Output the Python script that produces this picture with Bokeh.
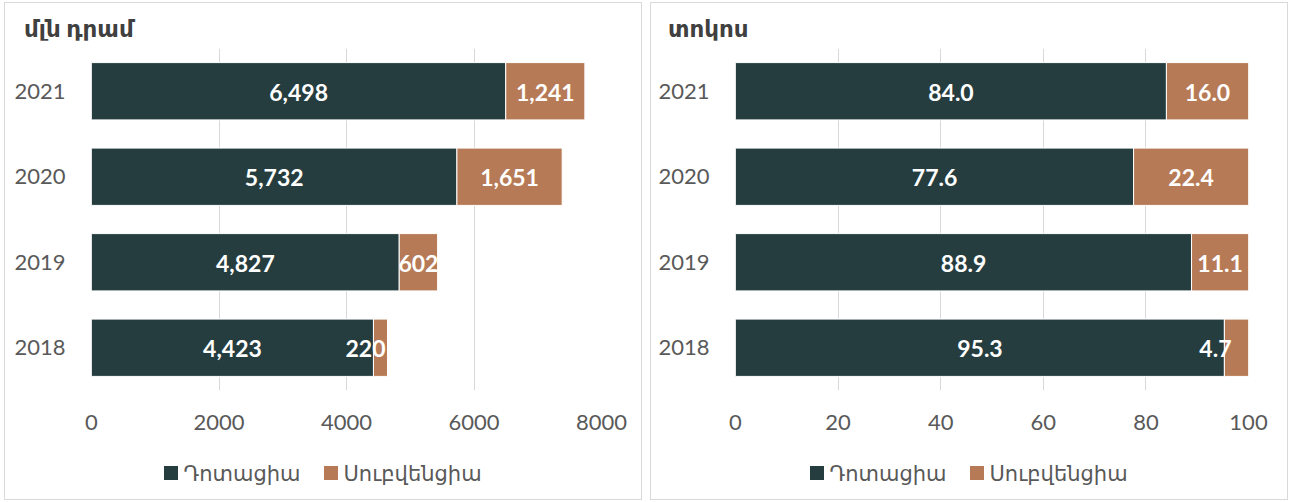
from bokeh.plotting import figure
from bokeh.layouts import row, column
from bokeh.models import ColumnDataSource, Range1d, FixedTicker, Div, Spacer
from bokeh.core.properties import value
from bokeh.embed import file_html
from bokeh.resources import INLINE

years = ["2018", "2019", "2020", "2021"]
dotacia_amd = [4423, 4827, 5732, 6498]
subvencia_amd = [220, 602, 1651, 1241]
dotacia_pct = [95.3, 88.9, 77.6, 84.0]
subvencia_pct = [4.7, 11.1, 22.4, 16.0]
series_names = ["Դոտացիա", "Սուբվենցիա"]
left_title = "մլն դրամ"
right_title = "տոկոս"
left_ticks = [0, 2000, 4000, 6000, 8000]
right_ticks = [0, 20, 40, 60, 80, 100]

DARK = "#263d40"
ORANGE = "#b77a56"
GRID = "#d9d9d9"
TXT = "#595959"
FONT = "Lato"
CSS_FONT = "Lato, 'DejaVu Sans', sans-serif"
COLORS = [DARK, ORANGE]


def make_panel(d, s, fmt, ticks, xmax, title, left, right, offs_s, title_pad):
    W = 636
    p = figure(width=W, height=405, y_range=years, x_range=Range1d(0, xmax),
               output_backend="svg", toolbar_location=None,
               min_border_left=left, min_border_right=right,
               min_border_top=8, min_border_bottom=55)
    p.outline_line_color = None
    src = ColumnDataSource(dict(
        y=years, d=d, s=s,
        dx=[v / 2 for v in d],
        sx=[a + b / 2 for a, b in zip(d, s)],
        dl=[fmt(v) for v in d], sl=[fmt(v) for v in s],
        os=offs_s,
    ))
    p.hbar_stack(["d", "s"], y="y", height=0.67, color=COLORS,
                 line_color="white", line_width=1, source=src)
    p.text(x="dx", y="y", text="dl", source=src, text_align="center", text_baseline="middle",
           text_color="white", text_font=value(FONT), text_font_style="bold",
           text_font_size="23px", y_offset=1)
    p.text(x="sx", y="y", text="sl", source=src, text_align="center", text_baseline="middle",
           text_color="white", text_font=value(FONT), text_font_style="bold",
           text_font_size="23px", x_offset="os", y_offset=1)

    p.xaxis.ticker = FixedTicker(ticks=ticks)
    p.xgrid.ticker = FixedTicker(ticks=ticks)
    p.xgrid.grid_line_color = GRID
    p.ygrid.grid_line_color = None
    for ax in (p.xaxis, p.yaxis):
        ax.axis_line_color = None
        ax.major_tick_line_color = None
        ax.minor_tick_line_color = None
        ax.major_tick_out = 0
        ax.major_tick_in = 0
        ax.major_label_text_font = FONT
        ax.major_label_text_font_size = "22px"
        ax.major_label_text_color = TXT
    p.xaxis.major_label_standoff = 24
    p.yaxis.major_label_standoff = 26

    title_div = Div(width=W, height=37, margin=0, text=(
        f'<div style="padding:12px 0 0 {title_pad}px;font:bold 23px {CSS_FONT};'
        f'line-height:26px;color:#404040;white-space:nowrap">{title}</div>'))

    sw = ('<span style="display:inline-block;width:14px;height:14px;background:{c};'
          'vertical-align:middle;margin-right:5px"></span>'
          '<span style="vertical-align:middle">{t}</span>')
    items = '<span style="display:inline-block;width:24px"></span>'.join(
        sw.format(c=c, t=t) for c, t in zip(COLORS, series_names))
    leg_div = Div(width=W, height=54, margin=0, text=(
        f'<div style="width:{W}px;text-align:center;padding-top:12px;font:21px {CSS_FONT};'
        f'line-height:26px;color:{TXT};white-space:nowrap">{items}</div>'))

    return column(title_div, p, leg_div, spacing=0, width=W, height=496,
                  styles={"outline": "1px solid #d9d9d9"})


c1 = make_panel(dotacia_amd, subvencia_amd, lambda v: f"{v:,}", left_ticks, 8000,
                left_title, 86, 40, [-15, 0, 0, 0], 19)
c2 = make_panel(dotacia_pct, subvencia_pct, lambda v: f"{v:.1f}", right_ticks, 100,
                right_title, 84, 39, [-21, 0, 0, 0], 17)

layout = column(Spacer(height=3),
                row(Spacer(width=5), c1, Spacer(width=10), c2, spacing=0),
                spacing=0)
open("out.html", "w").write(file_html(layout, INLINE))
